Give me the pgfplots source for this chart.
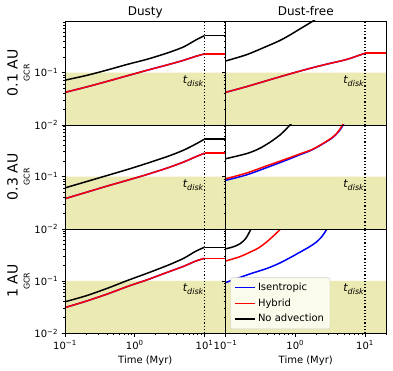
\documentclass[border=0pt]{standalone}
\usepackage{fontspec}
\setmainfont{DejaVu Sans}
\usepackage{pgfplots}
\pgfplotsset{compat=1.18}

\definecolor{shade}{RGB}{235,234,178}
\definecolor{legfill}{RGB}{251,251,236}
\definecolor{legedge}{RGB}{204,204,204}

\pgfplotsset{
  every axis/.append style={
    width=160.5pt, height=104pt, scale only axis,
    xmin=0.1, xmax=20, ymin=0.01, ymax=0.97,
    axis on top,
    axis line style={line width=0.8pt},
    tick align=outside, tick pos=left,
    xtick={0.1,1,10}, ytick={0.01,0.1},
    minor xtick={0.2,0.3,0.4,0.5,0.6,0.7,0.8,0.9,2,3,4,5,6,7,8,9,20},
    minor ytick={0.02,0.03,0.04,0.05,0.06,0.07,0.08,0.09,0.2,0.3,0.4,0.5,0.6,0.7,0.8,0.9},
    major tick length=3.5pt, minor tick length=2pt,
    xticklabels={}, yticklabels={},
    tick label style={font=\fontsize{10}{12}\selectfont},
    every axis label/.append style={font=\fontsize{10}{12}\selectfont},
  },
  every axis title/.style={font=\fontsize{12}{14}\selectfont, at={(0.5,1)}, anchor=base, yshift=5pt},
  axis background/.style={fill=white},
  every major tick/.append style={line width=0.8pt, black},
  every minor tick/.append style={line width=0.6pt, black},
  every axis plot/.append style={line width=1.5pt, line join=round},
  curve/.style={smooth, tension=0.5},
}

% khaki band below 0.1 and the dotted t_disk line
\newcommand{\backdrop}{%
  \addplot[draw=none, fill=shade, forget plot] coordinates {(0.1,0.01) (20,0.01) (20,0.1) (0.1,0.1) (0.1,0.01)};
  \addplot[black, line width=1.2pt, dash pattern=on 1.2pt off 2pt, forget plot] coordinates {(10,0.01) (10,0.97)};
  \node[anchor=base east, inner xsep=1pt, font=\fontsize{11}{13}\selectfont] at (axis cs:10,0.062)
    {\itshape t\raisebox{-2.5pt}{\fontsize{8}{9}\selectfont disk}};
}

\begin{document}
\begin{tikzpicture}
\useasboundingbox (0,0) rectangle (393pt,371pt);

% ---- 0.1 AU, dusty
\begin{loglogaxis}[at={(65pt,246pt)}, anchor=south west, title={Dusty},
  yticklabels={10\textsuperscript{−2},10\textsuperscript{−1}},
  ylabel={\fontsize{14}{16}\selectfont 0.1 AU\\\fontsize{8}{9}\selectfont GCR},
  ylabel style={align=center, at={(axis description cs:-0.29,0.5)}, anchor=center}]
\backdrop
\addplot[blue, curve] coordinates {(0.1,0.042)(0.2,0.053)(0.4,0.068)(0.8,0.088)(1.5,0.111)(3,0.142)(5,0.172)(7.5,0.205)(10,0.228)};
\addplot[red, curve] coordinates {(0.1,0.042)(0.2,0.053)(0.4,0.068)(0.8,0.088)(1.5,0.111)(3,0.142)(5,0.172)(7.5,0.205)(10,0.228)};
\addplot[red, forget plot] coordinates {(10,0.228)(20,0.228)};
\addplot[black, curve] coordinates {(0.1,0.072)(0.2,0.088)(0.4,0.112)(0.8,0.145)(1.5,0.18)(3,0.24)(5,0.31)(7.5,0.42)(10,0.51)};
\addplot[black, forget plot] coordinates {(10,0.51)(20,0.51)};
\end{loglogaxis}

% ---- 0.1 AU, dust-free
\begin{loglogaxis}[at={(225.5pt,246pt)}, anchor=south west, title={Dust-free}]
\backdrop
\addplot[blue, curve] coordinates {(0.1,0.042)(0.2,0.054)(0.4,0.071)(0.8,0.093)(1.6,0.12)(3,0.148)(5.4,0.178)(10,0.235)};
\addplot[red, curve] coordinates {(0.1,0.042)(0.2,0.054)(0.4,0.071)(0.8,0.093)(1.6,0.12)(3,0.148)(5.4,0.178)(10,0.235)};
\addplot[red, forget plot] coordinates {(10,0.235)(20,0.235)};
\addplot[black, curve] coordinates {(0.1,0.167)(0.2,0.22)(0.385,0.316)(0.6,0.41)(0.83,0.52)(1.2,0.7)(1.78,0.96)(2.0,1.08)};
\end{loglogaxis}

% ---- 0.3 AU, dusty
\begin{loglogaxis}[at={(65pt,142pt)}, anchor=south west,
  yticklabels={10\textsuperscript{−2},10\textsuperscript{−1}},
  ylabel={\fontsize{14}{16}\selectfont 0.3 AU\\\fontsize{8}{9}\selectfont GCR},
  ylabel style={align=center, at={(axis description cs:-0.29,0.5)}, anchor=center}]
\backdrop
\addplot[blue, curve] coordinates {(0.1,0.038)(0.2,0.05)(0.4,0.066)(0.8,0.086)(1.5,0.11)(3,0.148)(5,0.19)(7.5,0.24)(10,0.28)};
\addplot[red, curve] coordinates {(0.1,0.038)(0.2,0.05)(0.4,0.066)(0.8,0.086)(1.5,0.11)(3,0.148)(5,0.19)(7.5,0.24)(10,0.28)};
\addplot[red, forget plot] coordinates {(10,0.28)(20,0.28)};
\addplot[black, curve] coordinates {(0.1,0.061)(0.2,0.08)(0.4,0.105)(0.8,0.138)(1.5,0.18)(3,0.245)(5,0.32)(7.5,0.42)(10,0.52)};
\addplot[black, forget plot] coordinates {(10,0.52)(20,0.52)};
\end{loglogaxis}

% ---- 0.3 AU, dust-free
\begin{loglogaxis}[at={(225.5pt,142pt)}, anchor=south west]
\backdrop
\addplot[blue, curve] coordinates {(0.1,0.085)(0.2,0.108)(0.385,0.148)(0.7,0.2)(1.15,0.26)(1.7,0.32)(2.2,0.385)(3.2,0.52)(3.85,0.64)(4.5,0.82)(4.95,1.02)};
\addplot[red, curve] coordinates {(0.1,0.091)(0.2,0.117)(0.385,0.16)(0.7,0.212)(1.15,0.27)(1.7,0.325)(2.2,0.39)(3.2,0.53)(3.85,0.65)(4.4,0.82)(4.85,1.02)};
\addplot[black, curve] coordinates {(0.1,0.22)(0.2,0.275)(0.3,0.34)(0.43,0.45)(0.6,0.62)(0.74,0.81)(0.92,1.1)};
\end{loglogaxis}

% ---- 1 AU, dusty
\begin{loglogaxis}[at={(65pt,37.7pt)}, anchor=south west,
  yticklabels={10\textsuperscript{−2},10\textsuperscript{−1}},
  xticklabels={10\textsuperscript{−1},10\textsuperscript{0},10\textsuperscript{1}},
  xlabel={Time (Myr)},
  ylabel={\fontsize{14}{16}\selectfont 1 AU\\\fontsize{8}{9}\selectfont GCR},
  ylabel style={align=center, at={(axis description cs:-0.29,0.5)}, anchor=center}]
\backdrop
\addplot[blue, curve] coordinates {(0.1,0.031)(0.2,0.041)(0.4,0.056)(0.8,0.079)(1.5,0.105)(3,0.148)(5,0.19)(7.5,0.24)(10,0.27)};
\addplot[red, curve] coordinates {(0.1,0.031)(0.2,0.041)(0.4,0.056)(0.8,0.079)(1.5,0.105)(3,0.148)(5,0.19)(7.5,0.24)(10,0.27)};
\addplot[red, forget plot] coordinates {(10,0.27)(20,0.27)};
\addplot[black, curve] coordinates {(0.1,0.040)(0.2,0.052)(0.4,0.072)(0.8,0.103)(1.5,0.14)(3,0.2)(5,0.27)(7.5,0.37)(10,0.44)};
\addplot[black, forget plot] coordinates {(10,0.44)(20,0.44)};
\end{loglogaxis}

% ---- 1 AU, dust-free (with legend)
\begin{loglogaxis}[at={(225.5pt,37.7pt)}, anchor=south west,
  xticklabels={10\textsuperscript{−1},10\textsuperscript{0},10\textsuperscript{1}},
  xlabel={Time (Myr)},
  legend style={at={(0.03,0.04)}, anchor=south west, fill=legfill,
    draw=legedge, rounded corners=2pt,
    font=\fontsize{10}{12}\selectfont, row sep=2.5pt, inner xsep=4pt, inner ysep=3.5pt},
  legend cell align=left,
  legend image code/.code={\draw[#1, sharp corners] (0pt,0pt) -- (20pt,0pt);}]
\backdrop
\addplot[blue, curve, forget plot] coordinates {(0.1,0.093)(0.22,0.135)(0.4,0.175)(0.6,0.22)(0.85,0.28)(1.15,0.35)(1.6,0.45)(2.0,0.55)(2.4,0.7)(2.77,0.93)(2.9,1.05)};
\addplot[red, curve, forget plot] coordinates {(0.1,0.24)(0.16,0.29)(0.22,0.35)(0.3,0.43)(0.385,0.55)(0.5,0.75)(0.6,0.95)(0.63,1.05)};
\addplot[black, curve, forget plot] coordinates {(0.1,0.41)(0.13,0.45)(0.16,0.51)(0.19,0.62)(0.21,0.76)(0.235,1.02)};
\addlegendimage{blue, line width=1.5pt}
\addlegendentry{Isentropic}
\addlegendimage{red, line width=1.5pt}
\addlegendentry{Hybrid}
\addlegendimage{black, line width=1.5pt}
\addlegendentry{No advection}
\end{loglogaxis}
\end{tikzpicture}
\end{document}
